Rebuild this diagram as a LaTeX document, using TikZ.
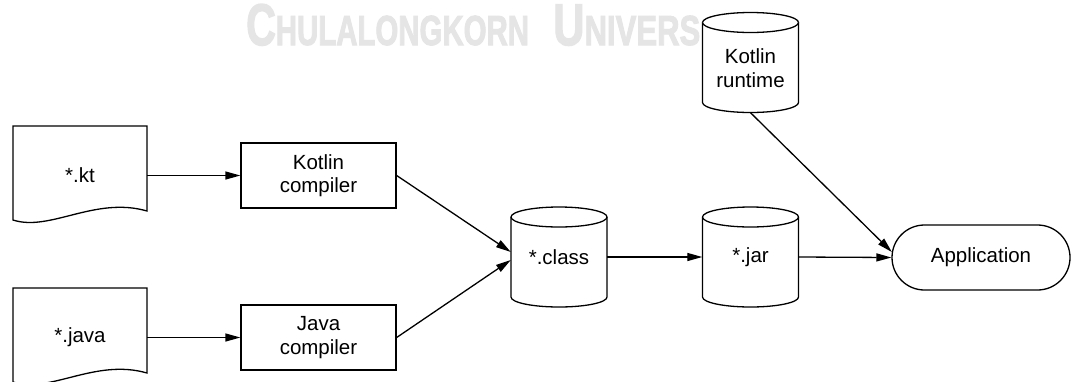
\documentclass[tikz,border=0pt]{standalone}
\usepackage{fontspec}
\setmainfont{Liberation Sans}
\newfontfamily\wmfont{Liberation Sans}[BoldFeatures={FakeBold=2.5}]
\usetikzlibrary{arrows.meta,calc}

% draws a storage drum centred at (#1,#2) with half height #3
\newcommand\drumshape[3]{%
  \draw[body] (#1-48,#2-#3+10) -- (#1-48,#2+#3-10)
    arc[start angle=180,end angle=0,x radius=48,y radius=10]
    -- (#1+48,#2-#3+10)
    arc[start angle=0,end angle=-180,x radius=48,y radius=10] -- cycle;
  \draw[body] (#1-48,#2-#3+10)
    arc[start angle=180,end angle=0,x radius=48,y radius=10];
}

\tikzset{
  lbl/.style={font=\fontsize{20.5}{23.5}\selectfont, align=center, text=black},
  body/.style={draw=black, line width=1.3pt, fill=white},
  proc/.style={lbl, draw=black, line width=1.3pt, fill=white,
    minimum width=155pt, minimum height=65pt, inner sep=2pt},
  docbox/.style={lbl, inner sep=0pt, minimum width=134pt, minimum height=99pt},
  store/.style={lbl, inner sep=0pt, minimum width=96pt, minimum height=100pt},
  term/.style={lbl, draw=black, line width=1.3pt, fill=white,
    rounded corners=32.5pt, minimum width=178pt, minimum height=65pt},
  flow/.style={draw=black, line width=1.3pt, -{Triangle[length=15pt,width=8pt]}},
  wm/.style={inner sep=0pt, text=black!10, font=\wmfont\bfseries}
}

\begin{document}
\begin{tikzpicture}[x=1pt,y=-1pt]
  \useasboundingbox (0,0) rectangle (1073,381);
  \fill[white] (0,0) rectangle (1073,381);
  \clip (0,0) rectangle (1073,381);

  % faint lettering along the top
  \node[wm, anchor=base west] (wmA) at (246,45)
    {\scalebox{0.7}[1]{\fontsize{58.7}{58.7}\selectfont C\fontsize{42}{42}\selectfont HULALONGKORN}};
  \node[wm, anchor=base west] (wmB) at (553,45)
    {\scalebox{0.74}[1]{\fontsize{58.7}{58.7}\selectfont U\fontsize{42}{42}\selectfont NIVERS}};

  % source documents
  \draw[body] (13,126) -- (147,126) -- (147,211)
    .. controls (95,196) and (50,232) .. (13,220) -- cycle;
  \node[docbox] (kt) at (80,175.5) {*.kt};
  \draw[body] (13,288) -- (147,288) -- (147,373)
    .. controls (95,358) and (50,394) .. (13,382) -- cycle;
  \node[docbox] (jv) at (80,337.5) {*.java};

  % compilers
  \node[proc] (kc) at (318.5,175.5) {Kotlin\\compiler};
  \node[proc] (jc) at (318.5,337.5) {Java\\compiler};

  % storage drums
  \drumshape{559}{257}{50}
  \node[store] (cls) at (559,257) {*.class};
  \drumshape{750.5}{257}{50}
  \node[store] (jar) at (750.5,257) {*.jar};
  \drumshape{750.5}{62.5}{50}
  \node[store, minimum height=89pt] (rt) at (750.5,68) {Kotlin\\runtime};

  % application
  \node[term] (app) at (981,257.5) {Application};

  % connection points
  \coordinate (clsA) at ($(cls.west)+(0,-5)$);
  \coordinate (clsB) at ($(cls.west)+(0,3)$);
  \coordinate (appA) at ($(app.west)+(0.5,-5.5)$);

  % flow
  \draw[flow] (kt.east) -- (kc.west);
  \draw[flow] (jv.east) -- (jc.west);
  \draw[flow] (kc.east) -- (clsA);
  \draw[flow] (jc.east) -- (clsB);
  \draw[flow] (cls.east) -- (jar.west);
  \draw[flow] (jar.east) -- (app.west);
  \draw[flow] (rt.south) -- (appA);
\end{tikzpicture}
\end{document}
